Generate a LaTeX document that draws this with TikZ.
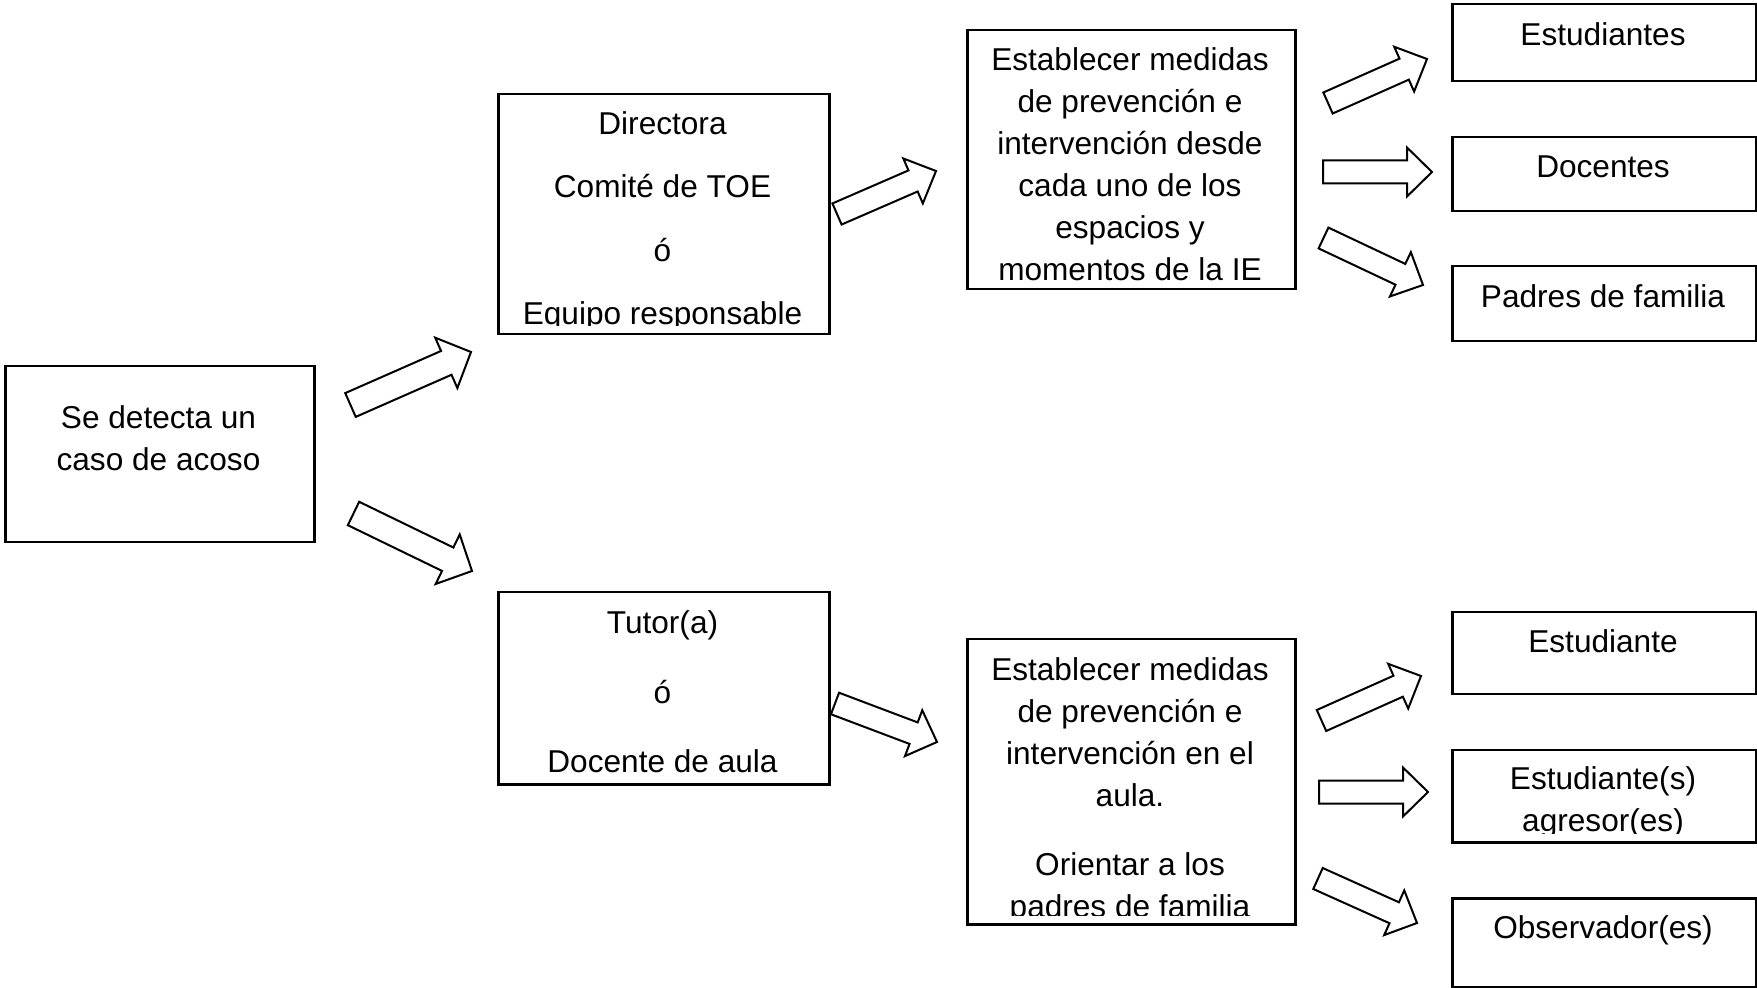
\documentclass[tikz,border=0pt]{standalone}
\usepackage{fontspec}
\setmainfont{Liberation Sans}
\usepackage{tikz}
\usetikzlibrary{calc}
\usetikzlibrary{positioning}

\tikzset{
  caja/.style={draw, line width=1.25pt, inner sep=0pt, anchor=north west},
  texto/.style={align=center, inner sep=0pt, anchor=north,
    font=\fontsize{15.8}{21}\selectfont, execute at begin node=\strut},
  flecha/.style n args={3}{line width=1pt, line join=miter, to path={
    ($(\tikztostart)!#1!90:(\tikztotarget)$)
    -- ($($(\tikztotarget)!#3!(\tikztostart)$)!#1!90:(\tikztotarget)$)
    -- ($($(\tikztotarget)!#3!(\tikztostart)$)!#2!90:(\tikztotarget)$)
    -- (\tikztotarget)
    -- ($($(\tikztotarget)!#3!(\tikztostart)$)!#2!-90:(\tikztotarget)$)
    -- ($($(\tikztotarget)!#3!(\tikztostart)$)!#1!-90:(\tikztotarget)$)
    -- ($(\tikztostart)!#1!-90:(\tikztotarget)$) -- cycle}},
  chica/.style={flecha={5.75pt}{12.25pt}{12.5pt}},
  grande/.style={flecha={6.5pt}{13.75pt}{13.5pt}},
}

\begin{document}
\begin{tikzpicture}[x=0.5pt, y=-0.5pt]

      \useasboundingbox (0,0) rectangle (1757,988);

      \node [caja, minimum width=154.5pt, minimum height=88pt] (caso) at (4,365) {};
      \node [caja, minimum width=165.5pt, minimum height=120pt] (dir) at (497,93) {};
      \node [caja, minimum width=165.5pt, minimum height=96pt] (tutor) at (497,591) {};
      \node [caja, minimum width=164pt, minimum height=129.5pt] (medie) at (966,29) {};
      \node [caja, minimum width=164pt, minimum height=142.5pt] (medaula) at (966,638) {};
      \node [caja, minimum width=152pt, minimum height=38.5pt] (estes) at (1451,3) {};
      \node [caja, minimum width=152pt, minimum height=37pt] (doc) at (1451,136) {};
      \node [caja, minimum width=152pt, minimum height=37.5pt] (padres) at (1451,265) {};
      \node [caja, minimum width=152pt, minimum height=41pt] (estu) at (1451,611) {};
      \node [caja, minimum width=152pt, minimum height=46pt] (agr) at (1451,749) {};
      \node [caja, minimum width=152pt, minimum height=44.5pt] (obs) at (1451,897) {};

      \node [texto] (tcaso) at (158.5,405.3) {Se detecta un\\caso de acoso};
      \begin{scope}
        \clip (dir.north west) rectangle ($(dir.south east)+(0,-10)$);
        \node [texto] (tdir) at (662.5,111.3)
        {Directora\\[10.7pt]Comité de TOE\\[10.7pt]ó\\[10.7pt]Equipo responsable};
      \end{scope}
      \node [texto] (ttutor) at (662.5,610.3)
      {Tutor(a)\\[13.75pt]ó\\[13.75pt]Docente de aula};
      \begin{scope}
        \clip (medie.north west) rectangle ($(medie.south east)+(0,-10)$);
        \node [texto] (tmedie) at (1130,47.3)
        {Establecer medidas\\de prevención e\\intervención desde\\cada uno de los\\espacios y\\momentos de la IE};
      \end{scope}
      \begin{scope}
        \clip (medaula.north west) rectangle ($(medaula.south east)+(0,-10)$);
        \node [texto] (tmedaula) at (1130,657.3)
        {Establecer medidas\\de prevención e\\intervención en el\\aula.\\[13.5pt]Orientar a los\\padres de familia};
      \end{scope}
      \node [texto] (testes) at (1603,15.6) {Estudiantes};
      \node [texto] (tdoc) at (1603,147.6) {Docentes};
      \node [texto] (tpadres) at (1603,277.6) {Padres de familia};
      \node [texto] (testu) at (1603,622.6) {Estudiante};
      \begin{scope}
        \clip (agr.north west) rectangle ($(agr.south east)+(0,-10)$);
        \node [texto] (tagr) at (1603,766.3) {Estudiante(s)\\agresor(es)};
      \end{scope}
      \node [texto] (tobs) at (1603,908.6) {Observador(es)};

      \coordinate (s1) at (350.5,405);   \coordinate (t1) at (471,352);
      \coordinate (s2) at (353.5,513.5); \coordinate (t2) at (472,571);
      \coordinate (s3) at (837,214);     \coordinate (t3) at (936,171);
      \coordinate (s4) at (835,703.5);   \coordinate (t4) at (937,742);
      \coordinate (s5) at (1328,103);    \coordinate (t5) at (1427,59);
      \coordinate (s6) at (1323,172);    \coordinate (t6) at (1432,172);
      \coordinate (s7) at (1323.5,238);  \coordinate (t7) at (1423,285);
      \coordinate (s8) at (1321.5,720.5);\coordinate (t8) at (1421,676);
      \coordinate (s9) at (1319,792);    \coordinate (t9) at (1428,792);
      \coordinate (s10) at (1318,878.5); \coordinate (t10) at (1417,923);

      \draw [grande] (s1) to (t1);
      \draw [grande] (s2) to (t2);
      \draw [chica] (s3) to (t3);
      \draw [chica] (s4) to (t4);
      \draw [chica] (s5) to (t5);
      \draw [chica] (s6) to (t6);
      \draw [chica] (s7) to (t7);
      \draw [chica] (s8) to (t8);
      \draw [chica] (s9) to (t9);
      \draw [chica] (s10) to (t10);

    \end{tikzpicture}
\end{document}
